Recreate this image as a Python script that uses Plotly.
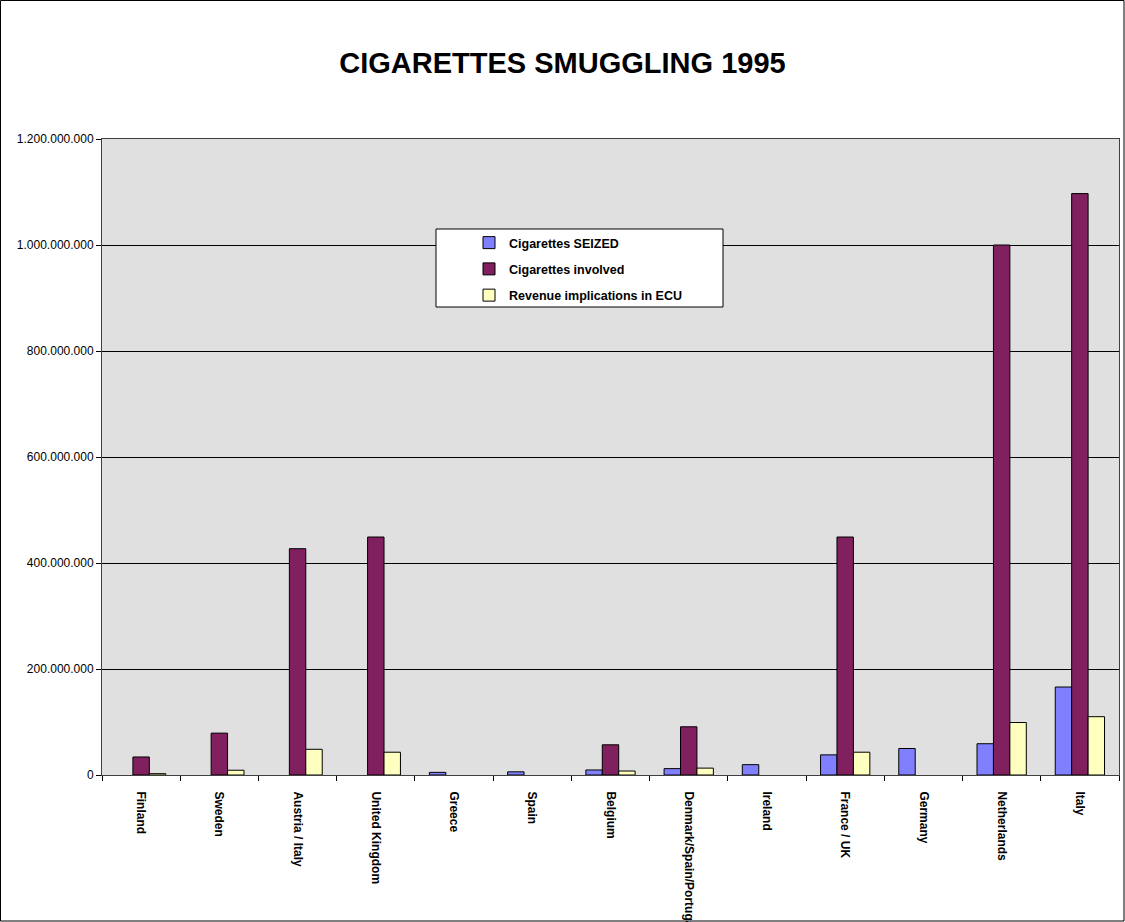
import plotly.graph_objects as go

categories = ["Finland", "Sweden", "Austria / Italy", "United Kingdom", "Greece", "Spain",
              "Belgium", "Denmark/Spain/Portugal", "Ireland", "France / UK", "Germany",
              "Netherlands", "Italy"]
seized = [None, None, None, None, 5e6, 6e6, 9.5e6, 12e6, 19.5e6, 38e6, 50e6, 59e6, 166e6]
involved = [34e6, 79e6, 427e6, 449e6, None, None, 57e6, 91e6, None, 449e6, None, 1000e6, 1097e6]
revenue = [2.5e6, 9e6, 48.5e6, 43e6, None, None, 7.5e6, 13e6, None, 43e6, None, 99e6, 110e6]
ytick_vals = [0, 200e6, 400e6, 600e6, 800e6, 1000e6, 1200e6]
ytick_text = ["0", "200.000.000", "400.000.000", "600.000.000", "800.000.000",
              "1.000.000.000", "1.200.000.000"]

W, H = 1125, 922
L, R, T, B = 102, 1119, 139, 775
FONT = "Arial, Liberation Sans, sans-serif"

def px_x(p):
    return (p - L) / (R - L)

def px_y(p):
    return (B - p) / (B - T)

fig = go.Figure()
series = [("Cigarettes SEIZED", seized, "#8080FF"),
          ("Cigarettes involved", involved, "#80205E"),
          ("Revenue implications in ECU", revenue, "#FFFFC0")]
for name, vals, col in series:
    fig.add_trace(go.Bar(name="<b>%s</b>" % name, x=categories, y=vals, legendgroup=name,
                         marker=dict(color=col, line=dict(color="black", width=1))))

fig.update_layout(
    width=W, height=H,
    margin=dict(l=L, r=W - R, t=T, b=H - B),
    paper_bgcolor="white", plot_bgcolor="#E0E0E0",
    barmode="group", bargap=0.37, bargroupgap=0,
    font=dict(family=FONT, color="black"),
    title=dict(text="<b>CIGARETTES SMUGGLING 1995</b>", x=0.5, xanchor="center",
               y=1 - 63 / H, yanchor="middle", yref="container",
               font=dict(size=29, family=FONT, color="black")),
    showlegend=True,
    legend=dict(x=px_x(469), y=px_y(228), xanchor="left", yanchor="top",
                bgcolor="rgba(0,0,0,0)", borderwidth=0,
                traceorder="grouped", tracegroupgap=7,
                font=dict(size=12.5, color="black", family=FONT), itemwidth=30),
    xaxis=dict(type="category", tickson="boundaries", ticks="outside", ticklen=5,
               tickcolor="black", tickangle=90, showline=True, linecolor="#404040",
               linewidth=1, mirror=True, showgrid=False, ticklabelstandoff=13,
               automargin=False,
               tickfont=dict(size=12, family=FONT, color="black"),
               ticktext=["<b>%s</b>" % c for c in categories], tickvals=categories),
    yaxis=dict(range=[0, 1.2e9], tickvals=ytick_vals, ticktext=ytick_text,
               ticks="outside", ticklen=5, tickcolor="black", showgrid=True,
               gridcolor="black", gridwidth=1, showline=True, linecolor="#404040",
               linewidth=1, mirror=True, zeroline=False, automargin=False,
               tickfont=dict(size=12, family=FONT, color="black")),
)

# legend box
fig.add_shape(type="rect", xref="paper", yref="paper",
              x0=px_x(436), x1=px_x(723), y0=px_y(307), y1=px_y(229),
              fillcolor="white", line=dict(color="black", width=1), layer="above")
# outer chart border
fig.add_shape(type="rect", xref="paper", yref="paper",
              x0=px_x(0.5), x1=px_x(1124), y0=px_y(921), y1=px_y(0.5),
              fillcolor="rgba(0,0,0,0)", line=dict(color="black", width=1), layer="above")

fig.write_html("out.html")
